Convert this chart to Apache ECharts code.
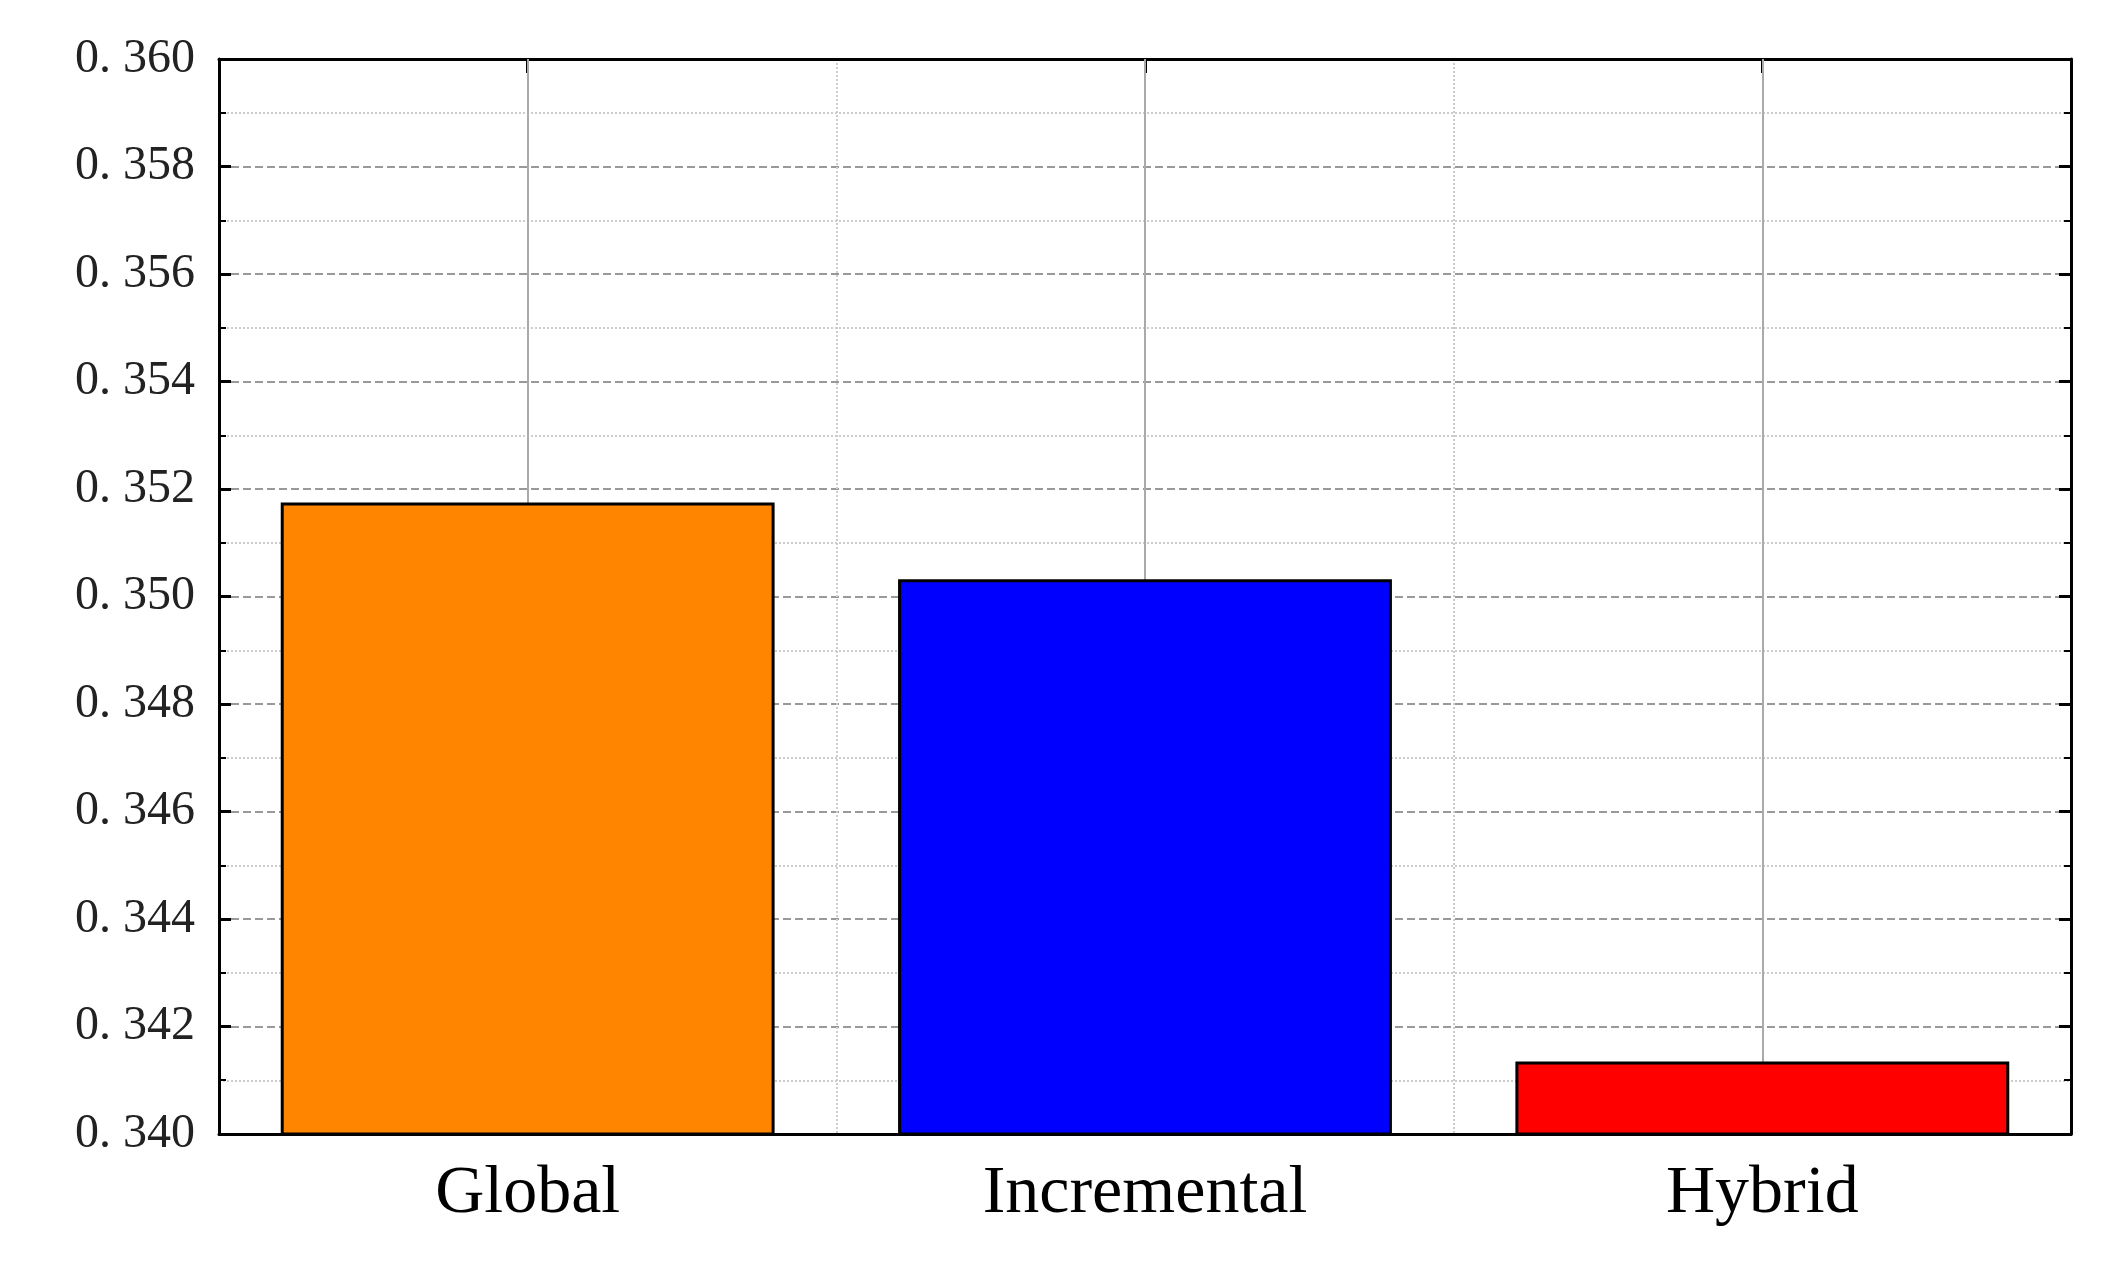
<!DOCTYPE html>
<html>
<head>
<meta charset="utf-8">
<script src="https://cdn.jsdelivr.net/npm/echarts@6/dist/echarts.min.js"></script>
<style>html,body{margin:0;padding:0;background:#fff}#chart{width:2109px;height:1274px}</style>
</head>
<body>
<div id="chart"></div>
<script>
var categories = ['Global', 'Incremental', 'Hybrid'];
var values = [0.35175, 0.35032, 0.34135];
var colors = ['#ff8400', '#0000ff', '#ff0000'];
var yMin = 0.340, yMax = 0.360, yStep = 0.002;

var font = 'Liberation Serif';
var chart = echarts.init(document.getElementById('chart'));
var yBase = {
	type: 'value', min: yMin, max: yMax, interval: yStep,
	axisLine: {show: true, lineStyle: {color: '#000', width: 3}},
	axisTick: {show: true, inside: true, length: 12, lineStyle: {color: '#000', width: 3}},
	minorTick: {show: true, splitNumber: 2, length: 7, lineStyle: {color: '#000', width: 2}}
};
chart.setOption({
	animation: false,
	grid: {left: 219, right: 38, top: 59, bottom: 140},
	xAxis: [{
		type: 'category', data: categories,
		axisLine: {lineStyle: {color: '#000', width: 3}},
		axisTick: {show: true, inside: true, alignWithLabel: true, length: 14, lineStyle: {color: '#000', width: 3}},
		axisLabel: {fontFamily: font, fontSize: 68, color: '#000', margin: 26},
		splitLine: {show: true, lineStyle: {color: '#ccc', type: 'dotted', width: 2}}
	}, {
		type: 'category', data: categories, position: 'top',
		axisLine: {lineStyle: {color: '#000', width: 3}},
		axisTick: {show: true, inside: true, alignWithLabel: true, length: 14, lineStyle: {color: '#000', width: 3}},
		axisLabel: {show: false}
	}],
	yAxis: [Object.assign({}, yBase, {
		position: 'left',
		axisLabel: {fontFamily: font, fontSize: 48, color: '#222', margin: 24,
			formatter: function(v){ return v.toFixed(3).replace('.', '. '); }},
		splitLine: {show: true, lineStyle: {color: '#999', type: 'dashed', width: 2}},
		minorSplitLine: {show: true, lineStyle: {color: '#ccc', type: 'dotted', width: 2}}
	}), Object.assign({}, yBase, {
		position: 'right', axisLabel: {show: false}, splitLine: {show: false}
	})],
	series: [{
		type: 'line', data: [], z: 1, silent: true,
		markLine: {
			symbol: 'none', silent: true, label: {show: false},
			lineStyle: {color: '#aaa', type: 'solid', width: 2},
			data: categories.map(function(c){ return {xAxis: c}; })
		}
	}, {
		type: 'bar', z: 5, barWidth: '80%',
		data: values.map(function(v, i){
			return {value: v, itemStyle: {color: colors[i], borderColor: '#000', borderWidth: 3}};
		})
	}]
});
</script>
</body>
</html>
